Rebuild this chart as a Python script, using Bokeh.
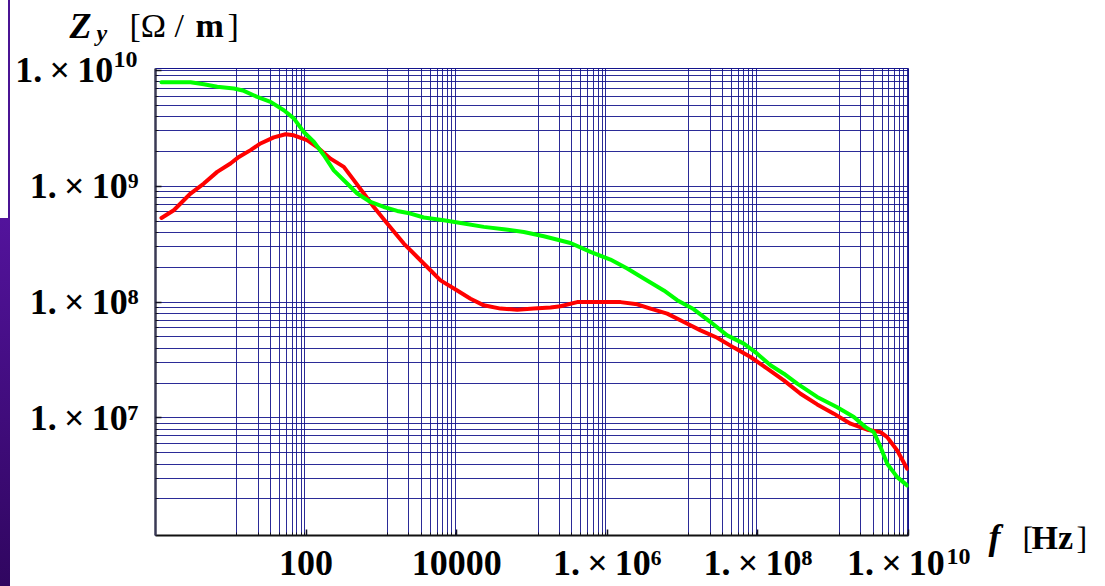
import math
from bokeh.plotting import figure
from bokeh.models import FixedTicker, Label, Range1d, Div
from bokeh.layouts import row, column
from bokeh.embed import file_html
from bokeh.resources import INLINE

# ---------------- data ----------------
f_red = [1.20, 1.75, 2.92, 4.38, 6.6, 9.9, 12.8, 18.3, 24.8, 37.2, 53.3, 68.7, 103, 140, 211,
         317, 430, 584, 793, 1194, 1984, 2987, 4055, 6095, 1.016e4, 1.525e4, 2.29e4, 3.82e4,
         6.36e4, 1.057e5, 1.76e5, 2.39e5, 3.98e5, 8.12e5, 1.50e6, 2.49e6, 3.75e6, 6.24e6,
         1.04e7, 1.73e7, 2.88e7, 4.79e7, 7.98e7, 1.33e8, 2.21e8, 3.68e8, 6.13e8, 1.02e9,
         1.70e9, 2.83e9, 4.25e9, 5.21e9, 7.08e9, 9.6e9]
z_red = [5.32e8, 6.21e8, 8.65e8, 1.055e9, 1.33e9, 1.57e9, 1.79e9, 2.05e9, 2.34e9, 2.64e9,
         2.81e9, 2.75e9, 2.50e9, 2.18e9, 1.73e9, 1.47e9, 1.13e9, 8.65e8, 6.62e8, 4.76e8,
         3.20e8, 2.45e8, 2.01e8, 1.54e8, 1.26e8, 1.07e8, 9.38e7, 8.79e7, 8.61e7, 8.79e7,
         8.97e7, 9.2e7, 1.00e8, 1.00e8, 1.00e8, 9.57e7, 8.79e7, 7.96e7, 6.73e7, 5.70e7,
         4.93e7, 4.05e7, 3.36e7, 2.67e7, 2.11e7, 1.62e7, 1.31e7, 1.09e7, 8.93e6, 7.93e6,
         7.55e6, 6.84e6, 5.25e6, 3.65e6]

f_green = [1.20, 2.92, 4.38, 6.6, 11.0, 14.9, 22.4, 33.7, 50.6, 68.7, 93.2, 126.5, 172, 233,
           351, 477, 716, 1076, 1622, 2434, 3656, 6740, 1.24e4, 2.29e4, 4.22e4, 7.78e4,
           1.435e5, 3.24e5, 5.98e5, 1.10e6, 1.84e6, 3.05e6, 5.63e6, 8.48e6, 1.41e7, 2.35e7,
           3.91e7, 6.50e7, 9.79e7, 1.47e8, 2.21e8, 3.33e8, 6.13e8, 1.13e9, 1.88e9, 2.69e9,
           3.46e9, 4.25e9, 5.21e9, 7.08e9, 9.6e9]
z_green = [7.91e9, 7.91e9, 7.60e9, 7.21e9, 6.98e9, 6.66e9, 5.90e9, 5.35e9, 4.53e9, 3.85e9,
           2.94e9, 2.42e9, 1.85e9, 1.37e9, 1.055e9, 8.65e8, 7.32e8, 6.62e8, 6.12e8, 5.81e8,
           5.37e8, 5.08e8, 4.76e8, 4.46e8, 4.26e8, 4.03e8, 3.70e8, 3.24e8, 2.71e8, 2.33e8,
           1.95e8, 1.60e8, 1.26e8, 1.04e8, 8.67e7, 6.73e7, 5.16e7, 4.38e7, 3.59e7, 2.85e7,
           2.41e7, 1.98e7, 1.52e7, 1.24e7, 1.02e7, 8.34e6, 7.55e6, 5.61e6, 4.03e6, 3.09e6,
           2.62e6]

TIMES = "1.\u2009\u00d7\u200910"
PAD = "\u2007\u2009"  # room left for a two-digit exponent drawn separately
x_ticks = [1e2, 1e4, 1e6, 1e8, 1e10]
x_tick_labels = ["100", "10000", TIMES + "\u2076", TIMES + "\u2078", TIMES + PAD]
y_ticks = [1e7, 1e8, 1e9, 1e10]
y_tick_labels = [TIMES + "\u2077", TIMES + "\u2078", TIMES + "\u2079", TIMES + PAD]
big_exponent = "10"

# ---------------- figure ----------------
XMIN, XMAX = 1.0, 1e10
YMIN, YMAX = 10 ** 5.986, 10 ** 10.016

p = figure(width=1095, height=586, x_axis_type="log", y_axis_type="log",
           x_range=Range1d(XMIN, XMAX), y_range=Range1d(YMIN, YMAX),
           output_backend="svg", toolbar_location=None,
           min_border_left=145, min_border_right=197, min_border_top=68, min_border_bottom=51)
p.background_fill_color = "white"
p.border_fill_color = "white"
p.outline_line_color = "#14148c"
p.outline_line_width = 1

NAVY = "#14148c"
SERIF = "Liberation Serif"
# grid line positions (as in the picture, groups of nine lines every second decade)
x_grid = [10 ** (2 * n + 1.08 + 0.945 * math.log10(k)) for n in range(5) for k in range(1, 10)]
y_minor = [k * 10 ** n for n in range(5, 10) for k in range(2, 10)
           if YMIN <= k * 10 ** n <= YMAX]

p.xaxis.ticker = FixedTicker(ticks=x_ticks, minor_ticks=x_grid)
p.yaxis.ticker = FixedTicker(ticks=y_ticks, minor_ticks=y_minor)
p.xaxis.major_label_overrides = dict(zip(x_ticks, x_tick_labels))
p.yaxis.major_label_overrides = dict(zip(y_ticks, y_tick_labels))

for ax in (p.xaxis[0], p.yaxis[0]):
    ax.major_label_text_font = SERIF
    ax.major_label_text_font_style = "bold"
    ax.major_label_text_font_size = "36px"
    ax.major_label_text_color = "black"
    ax.major_tick_out = 0
    ax.minor_tick_out = 0
    ax.major_tick_in = 6
    ax.minor_tick_in = 3
    ax.major_tick_line_color = "#111122"
    ax.minor_tick_line_color = "#111122"
    ax.major_tick_line_width = 1.5
    ax.minor_tick_line_width = 1
p.xaxis.major_label_standoff = 7
p.yaxis.major_label_standoff = 17
p.xaxis.axis_line_color = "#111111"
p.xaxis.axis_line_width = 2
p.yaxis.axis_line_color = "#3a3a55"
p.yaxis.axis_line_width = 2.5

p.xgrid.grid_line_color = None
p.xgrid.minor_grid_line_color = NAVY
p.xgrid.minor_grid_line_width = 1
p.xgrid.minor_grid_line_alpha = 0.9
p.ygrid.grid_line_color = NAVY
p.ygrid.grid_line_width = 1
p.ygrid.grid_line_alpha = 0.9
p.ygrid.minor_grid_line_color = NAVY
p.ygrid.minor_grid_line_width = 1
p.ygrid.minor_grid_line_alpha = 0.9

p.line(f_red, z_red, line_color="#ff0000", line_width=4, line_join="round", line_cap="round")
p.line(f_green, z_green, line_color="#00ff00", line_width=4, line_join="round", line_cap="round")


def lab(place, x, y, text, size, style="bold", dx=0, dy=0, align="left"):
    p.add_layout(Label(x=x, y=y, text=text, x_units="data", y_units="data",
                       x_offset=dx, y_offset=dy, text_font=SERIF,
                       text_font_size=f"{size}px", text_font_style=style,
                       text_color="black", text_align=align, text_baseline="middle"),
                 place)


# two-digit exponents of the 10^10 tick labels
lab("right", XMAX, YMIN, big_exponent, 24, dx=38, dy=-21)
lab("right", XMIN, YMAX, big_exponent, 24, dx=-18, dy=9, align="right")

# axis titles (side panels, so that they are not clipped to the frame)
lab("above", XMIN, YMAX, "[\u03a9 /", 34, style="normal", dx=-26, dy=43)
lab("above", XMIN, YMAX, "y", 24, style="bold italic", dx=-59, dy=36)
lab("right", XMIN, YMAX, "Z", 36, style="bold italic", dx=-86, dy=43)
lab("right", XMIN, YMAX, "m", 34, style="bold", dx=40, dy=43)
lab("right", XMIN, YMAX, "]", 34, style="normal", dx=72, dy=43)

lab("right", XMAX, YMIN, "f", 36, style="bold italic", dx=80, dy=-1)
lab("right", XMAX, YMIN, "[", 32, style="normal", dx=114, dy=-2)
lab("right", XMAX, YMIN, "Hz", 34, style="bold", dx=123, dy=-2)
lab("right", XMAX, YMIN, "]", 32, style="normal", dx=168, dy=-2)

# slide decoration at the left page edge
top_strip = Div(width=10, height=218, margin=0,
                styles={"box-sizing": "border-box", "border-right": "2px solid #4a1494"})
band = Div(width=10, height=368, margin=0,
           styles={"background": "linear-gradient(#53139c, #300660)"})
layout = row(column(top_strip, band, spacing=0), p, spacing=0)

open("out.html", "w").write(file_html(layout, INLINE))
